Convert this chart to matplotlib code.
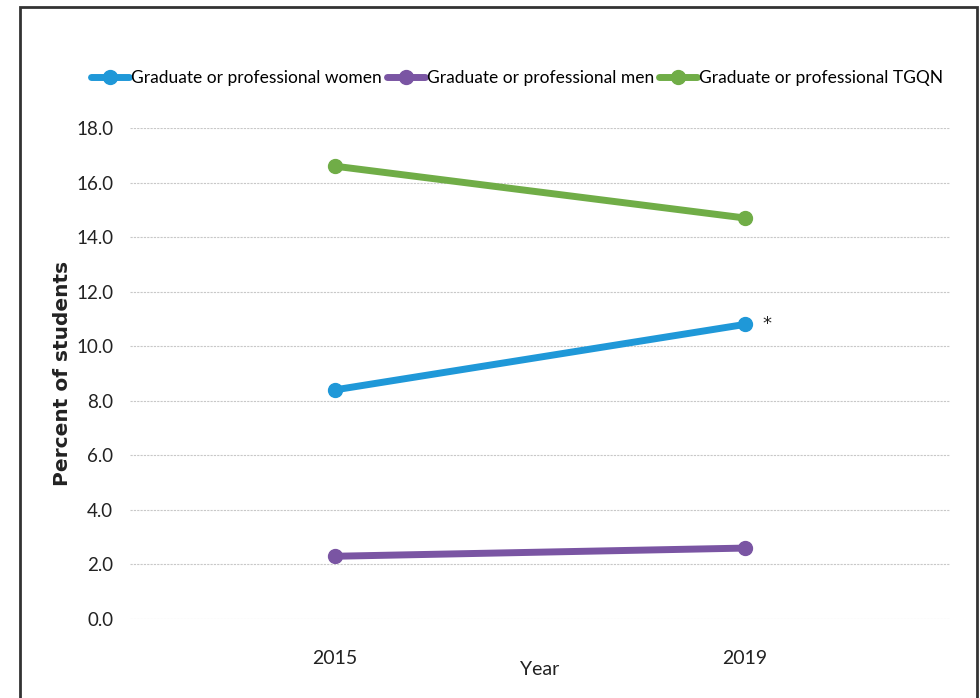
import matplotlib.pyplot as plt
from matplotlib.patches import Rectangle

years = ['2015', '2019']
women = [8.4, 10.8]
men = [2.3, 2.6]
tgqn = [16.6, 14.7]
labels = ['Graduate or professional women', 'Graduate or professional men',
          'Graduate or professional TGQN']
colors = ['#1f98d8', '#7a55a3', '#70ad47']

plt.rcParams['font.family'] = ['Lato', 'DejaVu Sans']

fig = plt.figure(figsize=(9.8, 6.98), dpi=100)
ax = fig.add_axes([130/980, 1 - 619/698, 820/980, 491/698])

x = range(len(years))
for vals, lab, c in zip([women, men, tgqn], labels, colors):
    ax.plot(x, vals, color=c, lw=5, marker='o', ms=10, label=lab,
            solid_capstyle='round')

ax.annotate('*', (1, women[1]), xytext=(16, 0), textcoords='offset points',
            fontsize=13, ha='center', va='center', color='#222222',
            family=['DejaVu Sans'])

ax.set_xlim(-0.5, 1.5)
ax.set_ylim(0, 18)
ax.set_yticks(range(0, 19, 2))
ax.set_yticklabels([f'{v:.1f}' for v in range(0, 19, 2)])
ax.set_xticks(list(x))
ax.set_xticklabels(years)
ax.tick_params(length=0, labelsize=13.5, colors='#222222', pad=12)
ax.tick_params(axis='x', labelsize=14, pad=22)
ax.grid(axis='y', color='#c8c8c8', lw=0.8, ls=(0, (2, 1)))
ax.set_axisbelow(True)
for s in ax.spines.values():
    s.set_visible(False)

ax.set_xlabel('Year', fontsize=14, color='#222222', labelpad=-4)
ax.set_ylabel('Percent of students', fontsize=14.5, fontweight='bold',
              family=['DejaVu Sans'], color='#222222', labelpad=3)

ax.legend(loc='center', bbox_to_anchor=(517/980, 1 - 78/698), bbox_transform=fig.transFigure,
          ncol=3, frameon=False, fontsize=12.5, handlelength=2.2, handletextpad=0.1,
          columnspacing=0.3, borderaxespad=0)

fig.patches.append(Rectangle((20/980, -0.1), 957/980, 1.1 - 7/698, transform=fig.transFigure,
                             fill=False, edgecolor='#333333', lw=2))

fig.savefig('out.png', dpi=100)
